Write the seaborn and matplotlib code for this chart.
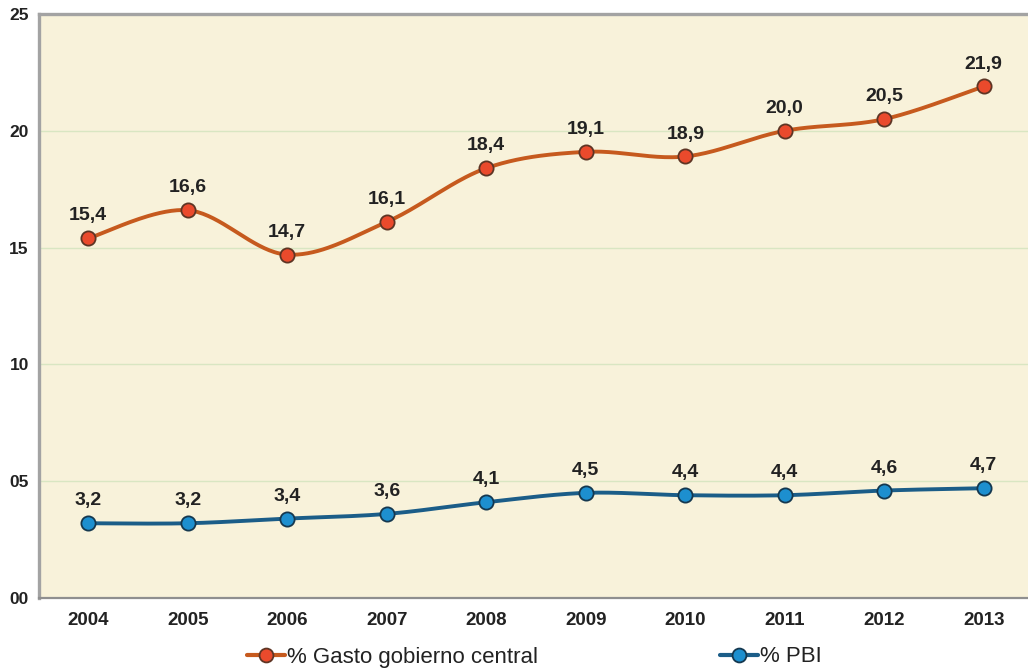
import numpy as np
import pandas as pd
import matplotlib
matplotlib.use("Agg")
import matplotlib.pyplot as plt
from matplotlib.lines import Line2D
import seaborn as sns

years = ["2004", "2005", "2006", "2007", "2008", "2009", "2010", "2011", "2012", "2013"]
gasto = [15.4, 16.6, 14.7, 16.1, 18.4, 19.1, 18.9, 20.0, 20.5, 21.9]
pbi = [3.2, 3.2, 3.4, 3.6, 4.1, 4.5, 4.4, 4.4, 4.6, 4.7]
y_ticks = [0, 5, 10, 15, 20, 25]
y_tick_labels = ["00", "05", "10", "15", "20", "25"]
series_names = ["% Gasto gobierno central", "% PBI"]

BG = "#f8f2da"
GRID = "#d9e6c2"
ORANGE_LINE = "#c65a1e"
ORANGE_DOT = "#ea4a2c"
ORANGE_EDGE = "#5e3524"
BLUE_LINE = "#1b5d88"
BLUE_DOT = "#1d8fcf"
BLUE_EDGE = "#15384f"


def smooth(xs, ys, steps=40):
    """Catmull-Rom style spline through the points (like spreadsheet smoothed lines)."""
    xs = np.asarray(xs, float)
    ys = np.asarray(ys, float)
    px = np.concatenate([[xs[0]], xs, [xs[-1]]])
    py = np.concatenate([[ys[0]], ys, [ys[-1]]])
    out_x, out_y = [], []
    t = np.linspace(0, 1, steps)
    for i in range(1, len(px) - 2):
        p0, p1, p2, p3 = (np.array([px[j], py[j]]) for j in (i - 1, i, i + 1, i + 2))
        c1 = p1 + (p2 - p0) / 6.0
        c2 = p2 - (p3 - p1) / 6.0
        b = ((1 - t) ** 3)[:, None] * p1 + (3 * (1 - t) ** 2 * t)[:, None] * c1 \
            + (3 * (1 - t) * t ** 2)[:, None] * c2 + (t ** 3)[:, None] * p2
        out_x.append(b[:, 0])
        out_y.append(b[:, 1])
    return np.concatenate(out_x), np.concatenate(out_y)


x = np.arange(len(years))
sx_g, sy_g = smooth(x, gasto)
sx_p, sy_p = smooth(x, pbi)
curve_g = pd.DataFrame({"x": sx_g, "y": sy_g})
curve_p = pd.DataFrame({"x": sx_p, "y": sy_p})
pts = pd.DataFrame({"x": x, "gasto": gasto, "pbi": pbi})

sns.set_style("white")
plt.rcParams["font.family"] = ["Liberation Sans", "DejaVu Sans"]

fig = plt.figure(figsize=(10.28, 6.70), dpi=100)
fig.patch.set_facecolor("white")
ax = fig.add_axes([38.5 / 1028, 1 - 598 / 670, (1033.5 - 38.5) / 1028, (598 - 14) / 670])
ax.set_facecolor(BG)

for yv in y_ticks[1:-1]:
    ax.axhline(yv, color=GRID, lw=1.0, zorder=1)

sns.lineplot(data=curve_g, x="x", y="y", ax=ax, color=ORANGE_LINE, lw=2.8,
             sort=False, estimator=None, zorder=3)
sns.lineplot(data=curve_p, x="x", y="y", ax=ax, color=BLUE_LINE, lw=2.8,
             sort=False, estimator=None, zorder=3)
sns.scatterplot(data=pts, x="x", y="gasto", ax=ax, color=ORANGE_DOT, s=105,
                edgecolor=ORANGE_EDGE, linewidth=1.3, zorder=4)
sns.scatterplot(data=pts, x="x", y="pbi", ax=ax, color=BLUE_DOT, s=105,
                edgecolor=BLUE_EDGE, linewidth=1.3, zorder=4)

for series in (gasto, pbi):
    for xi, v in zip(x, series):
        ax.annotate(f"{v:.1f}".replace(".", ","), (xi, v), xytext=(0, 10),
                    textcoords="offset points", ha="center", va="bottom",
                    fontsize=14, fontweight="bold", color="#222222", zorder=5)

ax.set_xlim(-0.5, len(years) - 0.5)
ax.set_ylim(0, 25)
ax.set_xlabel("")
ax.set_ylabel("")

ax.set_yticks(y_ticks)
ax.set_yticklabels(y_tick_labels, fontsize=12.5, fontweight="bold", color="#222222")
ax.tick_params(axis="y", length=0, pad=7)

ax.set_xticks(x)
ax.set_xticklabels(years, fontsize=13.5, fontweight="bold", color="#222222")
ax.set_xticks(np.arange(len(years) - 1) + 0.5, minor=True)
ax.tick_params(axis="x", which="major", length=0, pad=10)
ax.tick_params(axis="x", which="minor", length=5, width=1.2, color="#888888", direction="out")

for side in ("top", "left"):
    ax.spines[side].set_color("#a3a3a3")
    ax.spines[side].set_linewidth(2.4)
ax.spines["bottom"].set_color("#8f8f8f")
ax.spines["bottom"].set_linewidth(1.6)
ax.spines["right"].set_visible(False)

h_g = Line2D([], [], color=ORANGE_LINE, lw=3, marker="o", markersize=10,
             markerfacecolor=ORANGE_DOT, markeredgecolor=ORANGE_EDGE, markeredgewidth=1.3)
h_p = Line2D([], [], color=BLUE_LINE, lw=3, marker="o", markersize=10,
             markerfacecolor=BLUE_DOT, markeredgecolor=BLUE_EDGE, markeredgewidth=1.3)

leg_kw = dict(frameon=False, fontsize=16, handlelength=1.7, handletextpad=0.1,
              borderaxespad=0, loc="center left")
leg1 = fig.legend([h_g], [series_names[0]], bbox_to_anchor=(238 / 1028, 1 - 657 / 670), **leg_kw)
leg2 = fig.legend([h_p], [series_names[1]], bbox_to_anchor=(711 / 1028, 1 - 657 / 670), **leg_kw)
for leg in (leg1, leg2):
    for t in leg.get_texts():
        t.set_color("#222222")

fig.savefig("out.png", dpi=100, facecolor="white")
